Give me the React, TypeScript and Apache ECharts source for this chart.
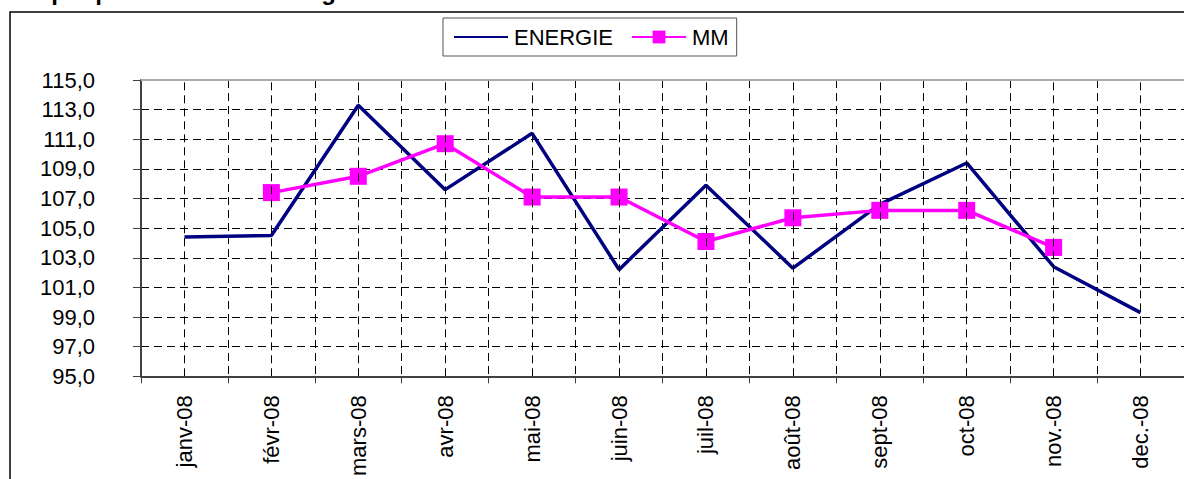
import React, { useEffect, useRef } from "react";
import * as echarts from "echarts";

const categories = [
  "janv-08", "févr-08", "mars-08", "avr-08", "mai-08", "juin-08",
  "juil-08", "août-08", "sept-08", "oct-08", "nov.-08", "dec.-08",
];
const energie = [104.4, 104.5, 113.3, 107.6, 111.4, 102.2, 107.9, 102.3, 106.6, 109.4, 102.4, 99.3];
const mm = [null, 107.4, 108.5, 110.7, 107.1, 107.1, 104.1, 105.7, 106.2, 106.2, 103.7, null];
const yMin = 95;
const yMax = 115;
const yStep = 2;
const titleText = "Graphique 1 : Prix de l'énergie";

const FONT = "'Liberation Sans', Arial, sans-serif";

export default function App() {
  const ref = useRef<HTMLDivElement>(null);
  useEffect(() => {
    if (!ref.current) return;
    const chart = echarts.init(ref.current, null, { renderer: "svg" });
    const option: any = {
      animation: false,
      backgroundColor: "#fff",
      textStyle: { fontFamily: FONT },
      graphic: [
        {
          type: "rect",
          shape: { x: 10, y: 12, width: 1400, height: 700 },
          style: { fill: "none", stroke: "#000", lineWidth: 1.5 },
          z: 100,
          silent: true,
        },
        {
          type: "text",
          x: 10,
          y: -9,
          style: {
            text: titleText,
            font: `bold 24px ${FONT}`,
            fill: "#000",
            verticalAlign: "middle",
            align: "left",
          },
          silent: true,
        },
      ],
      legend: {
        data: [
          { name: "ENERGIE", itemStyle: { color: "rgba(0,0,0,0)", borderWidth: 0 } },
          { name: "MM" },
        ],
        left: 443,
        top: 18,
        orient: "horizontal",
        padding: [8, 8, 8, 10],
        itemWidth: 54,
        itemHeight: 16,
        itemGap: 18,
        borderColor: "#555",
        borderWidth: 1,
        textStyle: { fontSize: 22, color: "#000", fontFamily: FONT, padding: [0, 0, 0, 1] },
      },
      grid: { left: 141, top: 80, width: 1049, height: 298.5, containLabel: false },
      xAxis: {
        type: "category",
        data: categories,
        boundaryGap: true,
        axisLine: { show: true, lineStyle: { color: "#404040", width: 2 } },
        axisTick: { show: true, length: 7, inside: false, lineStyle: { color: "#404040", width: 1 } },
        axisLabel: {
          rotate: 90,
          margin: 19,
          fontSize: 22,
          color: "#000",
          fontFamily: FONT,
          interval: 0,
        },
        splitLine: { show: true, lineStyle: { color: "#000", type: [8, 5], width: 1 } },
      },
      yAxis: {
        type: "value",
        min: yMin,
        max: yMax,
        interval: yStep,
        axisLine: { show: true, lineStyle: { color: "#404040", width: 2 } },
        axisTick: { show: true, length: 8, lineStyle: { color: "#404040", width: 1 } },
        axisLabel: {
          margin: 46,
          fontSize: 22,
          color: "#000",
          fontFamily: FONT,
          formatter: (v: number) => v.toFixed(1).replace(".", ","),
        },
        splitLine: { show: true, lineStyle: { color: "#000", type: [8, 5], width: 1 } },
      },
      series: [
        {
          name: "grid-helper",
          type: "line",
          data: categories.map(() => null),
          z: 1,
          silent: true,
          symbol: "none",
          markLine: {
            silent: true,
            symbol: ["none", "none"],
            label: { show: false },
            animation: false,
            data: [
              ...categories.map((c) => ({
                xAxis: c,
                lineStyle: { color: "#000", type: [8, 5], width: 1 },
              })),
              { yAxis: yMax, lineStyle: { color: "#aaa", type: "solid", width: 2 } },
            ],
          },
        },
        {
          name: "ENERGIE",
          type: "line",
          data: energie,
          symbol: "none",
          z: 3,
          lineStyle: { color: "#000080", width: 3.5 },
          itemStyle: { color: "#000080" },
        },
        {
          name: "MM",
          type: "line",
          data: mm,
          symbol: "rect",
          symbolSize: 17,
          z: 4,
          connectNulls: false,
          lineStyle: { color: "#FF00FF", width: 3.5 },
          itemStyle: { color: "#FF00FF" },
        },
      ],
    };
    chart.setOption(option);
    return () => chart.dispose();
  }, []);
  return (
    <div
      ref={ref}
      style={{ position: "absolute", left: 0, top: 0, width: 1184, height: 479 }}
    />
  );
}
